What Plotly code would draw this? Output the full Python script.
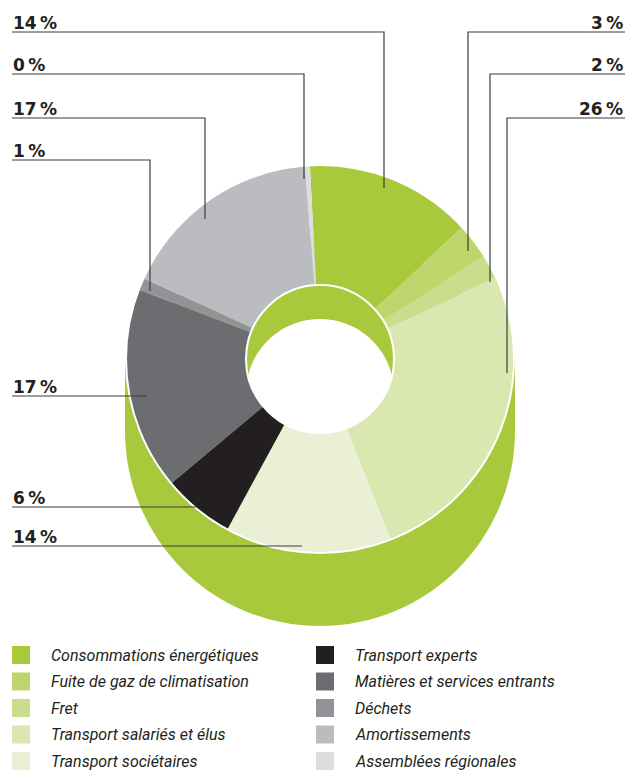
import numpy as np
import plotly.graph_objects as go

# ---- data -------------------------------------------------------------
categories = [
    "Consommations énergétiques",
    "Fuite de gaz de climatisation",
    "Fret",
    "Transport salariés et élus",
    "Transport sociétaires",
    "Transport experts",
    "Matières et services entrants",
    "Déchets",
    "Amortissements",
    "Assemblées régionales",
]
shares = [14, 3, 2, 26, 14, 6, 17, 1, 17, 0.4]
colors = [
    "#a9c93c", "#bdd56b", "#c9dd8c", "#dae7b1", "#e9f0d6",
    "#231f20", "#6c6d71", "#929397", "#bbbcbf", "#dcdddf",
]

# ---- geometry (pixels, origin top-left) --------------------------------
W, H = 626, 771
CX, CY = 320, 359          # centre of the ring
R_OUT, R_IN = 194, 74      # outer / inner radius
DEPTH = 72                 # height of the green cylinder wall
INNER_SHIFT = 34           # visible part of the inner wall
GREEN = colors[0]
INK = "#231f20"
LINE = "#3d3d3d"

# leader lines: slice index, side, label line y, elbow x, end y
leaders = [
    (0, "left", 32, 384, 188),
    (9, "left", 74, 304, 179),
    (8, "left", 118, 205, 219),
    (7, "left", 160, 150, 291),
    (6, "left", 396, 147, None),
    (5, "left", 507, 197, None),
    (4, "left", 546, 302, None),
    (1, "right", 32, 468, 251),
    (2, "right", 74, 490, 282),
    (3, "right", 118, 507, 373),
]

fig = go.Figure()

fig.add_trace(go.Pie(
    labels=categories,
    values=shares,
    marker=dict(colors=colors, line=dict(width=0)),
    hole=R_IN / R_OUT,
    sort=False,
    direction="clockwise",
    rotation=-3,
    textinfo="none",
    hoverinfo="label+percent",
    showlegend=False,
    domain=dict(
        x=[(CX - R_OUT) / W, (CX + R_OUT) / W],
        y=[(H - CY - R_OUT) / H, (H - CY + R_OUT) / H],
    ),
))

shapes = []

# green cylinder underneath the ring
shapes.append(dict(type="circle", layer="below", xref="x", yref="y",
                   x0=CX - R_OUT - 1, x1=CX + R_OUT + 1,
                   y0=CY + DEPTH - R_OUT - 1, y1=CY + DEPTH + R_OUT + 1,
                   fillcolor=GREEN, line=dict(width=0)))
shapes.append(dict(type="rect", layer="below", xref="x", yref="y",
                   x0=CX - R_OUT - 1, x1=CX + R_OUT + 1,
                   y0=CY, y1=CY + DEPTH,
                   fillcolor=GREEN, line=dict(width=0)))

# opening of the hole: intersection of the hole and the hole shifted down
half = INNER_SHIFT / 2
t0 = np.arcsin(half / R_IN)
lower = np.linspace(t0, np.pi - t0, 60)
upper = np.linspace(np.pi + t0, 2 * np.pi - t0, 60)
pts = [(CX + R_IN * np.cos(t), CY + R_IN * np.sin(t)) for t in lower]
pts += [(CX + R_IN * np.cos(t), CY + INNER_SHIFT + R_IN * np.sin(t)) for t in upper]
path = "M " + " L ".join(f"{x:.2f},{y:.2f}" for x, y in pts) + " Z"
shapes.append(dict(type="path", layer="below", xref="x", yref="y",
                   path=path, fillcolor="white", line=dict(width=0)))

# white rims on the ring edges
for r in (R_OUT, R_IN):
    shapes.append(dict(type="circle", layer="above", xref="x", yref="y",
                       x0=CX - r, x1=CX + r, y0=CY - r, y1=CY + r,
                       fillcolor="rgba(0,0,0,0)",
                       line=dict(color="white", width=2)))

annotations = []
for idx, side, ly, ex, ey in leaders:
    label = f"{shares[idx]:.0f}\u2009%"
    if side == "left":
        xs, xe = 12, ex
        ax, anchor = 12, "left"
    else:
        xs, xe = W - 1, ex
        ax, anchor = W - 2, "right"
    if ey is None:
        p = f"M {xs},{ly} L {xe},{ly}"
    else:
        p = f"M {xs},{ly} L {xe},{ly} L {xe},{ey}"
    shapes.append(dict(type="path", layer="above", xref="x", yref="y",
                       path=p, line=dict(color=LINE, width=1.2)))
    annotations.append(dict(x=ax, y=ly + 1.5, xref="x", yref="y",
                            text=label, showarrow=False,
                            xanchor=anchor, yanchor="bottom",
                            font=dict(family="DejaVu Sans", size=17,
                                      color=INK, weight="bold"),
                            borderpad=0))

# legend: two columns of five
for i, (name, col) in enumerate(zip(categories, colors)):
    column, row = divmod(i, 5)
    sx = 12 if column == 0 else 316
    cy = 655 + row * 26.5
    shapes.append(dict(type="rect", layer="above", xref="x", yref="y",
                       x0=sx, x1=sx + 18, y0=cy - 9, y1=cy + 9,
                       fillcolor=col, line=dict(width=0)))
    annotations.append(dict(x=sx + 38, y=cy, xref="x", yref="y",
                            text=name, showarrow=False,
                            xanchor="left", yanchor="middle",
                            font=dict(family="Roboto", size=16, color=INK,
                                      style="italic"),
                            borderpad=0))

fig.update_layout(
    width=W, height=H,
    margin=dict(l=0, r=0, t=0, b=0),
    paper_bgcolor="white", plot_bgcolor="rgba(0,0,0,0)",
    xaxis=dict(range=[0, W], visible=False, fixedrange=True),
    yaxis=dict(range=[H, 0], visible=False, fixedrange=True),
    shapes=shapes, annotations=annotations,
    showlegend=False,
)

fig.write_html("out.html")
